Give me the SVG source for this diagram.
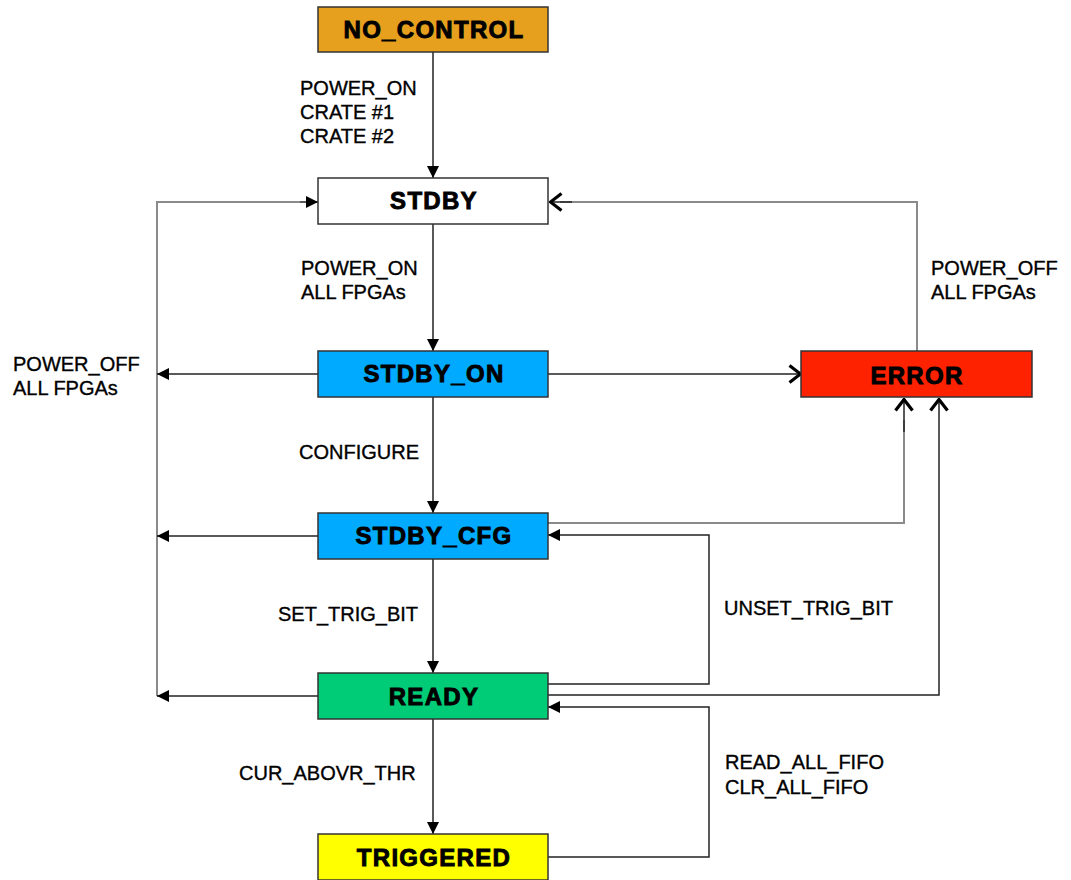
<svg xmlns="http://www.w3.org/2000/svg" width="1071" height="880" viewBox="0 0 1071 880">
<style>
.node rect{stroke:#333;stroke-width:1.5}
.nl{font-family:"Liberation Sans",Arial,sans-serif;font-weight:bold;font-size:24px;letter-spacing:1.3px;text-anchor:middle;fill:#000;stroke:#000;stroke-width:0.9}
.el{font-family:"Liberation Sans",Arial,sans-serif;font-size:20px;fill:#000;stroke:#000;stroke-width:0.35}
.c{fill:none;stroke:#222;stroke-width:1.5}
.g{fill:none;stroke:#8a8a8a;stroke-width:2}
</style>
<defs>
<marker id="fa" viewBox="0 0 12 12" refX="12" refY="6" markerWidth="12" markerHeight="12" markerUnits="userSpaceOnUse" orient="auto">
<path d="M0,0 L12,6 L0,12 Z" fill="#000"/>
</marker>
<marker id="oa" viewBox="0 0 14 20" refX="13" refY="10" markerWidth="14" markerHeight="20" markerUnits="userSpaceOnUse" orient="auto">
<path d="M1.5,1.5 L12.5,10 L1.5,18.5" fill="none" stroke="#000" stroke-width="3.2"/>
</marker>
</defs>
<g id="connectors">
<path class="c" d="M433,52 V178" marker-end="url(#fa)"/>
<path class="c" d="M433,224 V351" marker-end="url(#fa)"/>
<path class="c" d="M433,397 V513" marker-end="url(#fa)"/>
<path class="c" d="M433,559 V673" marker-end="url(#fa)"/>
<path class="c" d="M433,719 V834" marker-end="url(#fa)"/>
<path class="g" d="M157,696 V202 H300"/>
<path class="c" d="M300,202 H318" marker-end="url(#fa)"/>
<path class="c" d="M318,374 H157" marker-end="url(#fa)"/>
<path class="c" d="M318,536 H157" marker-end="url(#fa)"/>
<path class="c" d="M318,696 H157" marker-end="url(#fa)"/>
<path class="c" d="M548,374 H801" marker-end="url(#oa)"/>
<path class="g" d="M917,351 V202 H560"/>
<path class="c" d="M572,202 H550" marker-end="url(#oa)"/>
<path class="g" d="M548,523 H904 V420"/>
<path class="c" d="M904,432 V399" marker-end="url(#oa)"/>
<path class="c" d="M548,695 H939 V399" marker-end="url(#oa)"/>
<path class="c" d="M548,684 H709 V535 H548" marker-end="url(#fa)"/>
<path class="c" d="M548,857 H709 V707 H548" marker-end="url(#fa)"/>
</g>
<g id="node-no-control" class="node"><rect x="318" y="7" width="230" height="45" fill="#E6A01E"/><text class="nl" x="434" y="38">NO_CONTROL</text></g>
<g id="node-stdby" class="node"><rect x="318" y="178" width="230" height="46" fill="#fff"/><text class="nl" x="434" y="209">STDBY</text></g>
<g id="node-stdby-on" class="node"><rect x="318" y="351" width="230" height="46" fill="#00AAFF"/><text class="nl" x="434" y="382">STDBY_ON</text></g>
<g id="node-error" class="node"><rect x="801" y="351" width="231" height="46" fill="#FF2200"/><text class="nl" x="917" y="384">ERROR</text></g>
<g id="node-stdby-cfg" class="node"><rect x="318" y="513" width="230" height="46" fill="#00AAFF"/><text class="nl" x="434" y="544">STDBY_CFG</text></g>
<g id="node-ready" class="node"><rect x="318" y="673" width="230" height="46" fill="#00CC77"/><text class="nl" x="434" y="705">READY</text></g>
<g id="node-triggered" class="node"><rect x="318" y="834" width="230" height="46" fill="#FFFF00"/><text class="nl" x="434" y="866">TRIGGERED</text></g>
<g id="labels">
<text class="el" x="300" y="95">POWER_ON</text>
<text class="el" x="300" y="119">CRATE #1</text>
<text class="el" x="300" y="143">CRATE #2</text>
<text class="el" x="301" y="275">POWER_ON</text>
<text class="el" x="301" y="299">ALL FPGAs</text>
<text class="el" x="13" y="371">POWER_OFF</text>
<text class="el" x="13" y="395">ALL FPGAs</text>
<text class="el" x="931" y="275">POWER_OFF</text>
<text class="el" x="931" y="299">ALL FPGAs</text>
<text class="el" x="299" y="459">CONFIGURE</text>
<text class="el" x="278" y="621">SET_TRIG_BIT</text>
<text class="el" x="724" y="615">UNSET_TRIG_BIT</text>
<text class="el" x="239" y="780">CUR_ABOVR_THR</text>
<text class="el" x="725" y="769">READ_ALL_FIFO</text>
<text class="el" x="725" y="794">CLR_ALL_FIFO</text>
</g>
</svg>
